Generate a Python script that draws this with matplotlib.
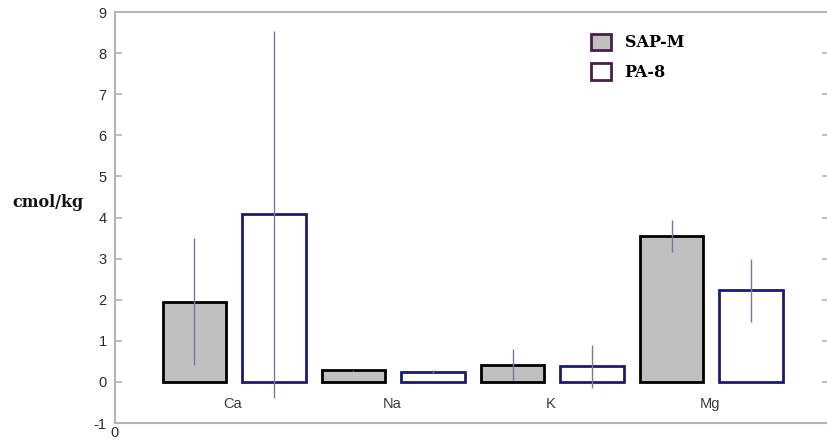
import numpy as np
import matplotlib
matplotlib.use('Agg')
import matplotlib.pyplot as plt
from matplotlib.patches import Patch

# Exchangeable cations (cmol/kg), mean and error for each soil
cations = ['Ca', 'Na', 'K', 'Mg']
sap_m = [1.95, 0.28, 0.42, 3.55]
sap_m_err = [1.55, 0.02, 0.38, 0.38]
pa_8 = [4.08, 0.25, 0.38, 2.23]
pa_8_err = [4.47, 0.03, 0.53, 0.76]
series_names = ['SAP-M', 'PA-8']

sans = ['Liberation Sans', 'DejaVu Sans']
serif = ['DejaVu Serif', 'Liberation Serif']
axis_grey = '#b4b4b4'
err_color = '#7676a6'

plt.rcParams['axes.unicode_minus'] = False


def create_plot():
    fig = plt.figure(figsize=(8.27, 4.40), dpi=100)
    ax = fig.add_axes([0.139, 0.0386, 0.8634, 0.934])

    x = np.arange(len(cations)) + 0.75
    width = 0.40

    ax.bar(x - 0.25, sap_m, width, color='#c0c0c0', edgecolor='black',
           linewidth=2.0, zorder=2)
    ax.bar(x + 0.25, pa_8, width, color='white', edgecolor='#1c1c6e',
           linewidth=2.0, zorder=2)
    ax.errorbar(x - 0.25, sap_m, yerr=sap_m_err, fmt='none',
                ecolor=err_color, elinewidth=1.0, capsize=0, zorder=3)
    ax.errorbar(x + 0.25, pa_8, yerr=pa_8_err, fmt='none',
                ecolor=err_color, elinewidth=1.0, capsize=0, zorder=3)

    # cation names sit inside the plot just under the zero line
    for xi, name in zip(x, cations):
        ax.text(xi - 0.01, -0.53, name, ha='center', va='center',
                fontsize=10.5, family=sans, color='#3a3a3a')

    ax.set_xlim(0, 4.49)
    ax.set_ylim(-1, 9)
    ax.set_yticks(range(-1, 10))
    ax.set_xticks([0])
    ax.tick_params(axis='y', direction='in', length=5, width=1.2,
                   color=axis_grey, labelsize=10.5, labelcolor='#2a2a2a',
                   right=True, pad=6)
    ax.tick_params(axis='x', length=0, labelsize=10.5, labelcolor='#2a2a2a',
                   pad=2)
    for lab in ax.get_xticklabels() + ax.get_yticklabels():
        lab.set_family(sans)
    for side in ['left', 'right', 'top', 'bottom']:
        ax.spines[side].set_color(axis_grey)
        ax.spines[side].set_linewidth(1.5)

    fig.text(0.058, 0.54, 'cmol/kg', fontsize=11.5, fontweight='bold',
             family=serif, ha='center', va='center', color='#111111')

    handles = [Patch(facecolor='#c0c0c0', edgecolor='#4a1e4a', linewidth=2),
               Patch(facecolor='white', edgecolor='#4a1e4a', linewidth=2)]
    ax.legend(handles, series_names, loc='upper left',
              bbox_to_anchor=(0.705, 0.942), bbox_transform=fig.transFigure,
              frameon=False, handlelength=1.25, handleheight=1.25,
              handletextpad=0.85, labelspacing=0.75, borderpad=0,
              prop={'family': serif, 'weight': 'bold', 'size': 11.5})

    plt.savefig('out.png', dpi=100)


def main():
    create_plot()


if __name__ == "__main__":
    main()
